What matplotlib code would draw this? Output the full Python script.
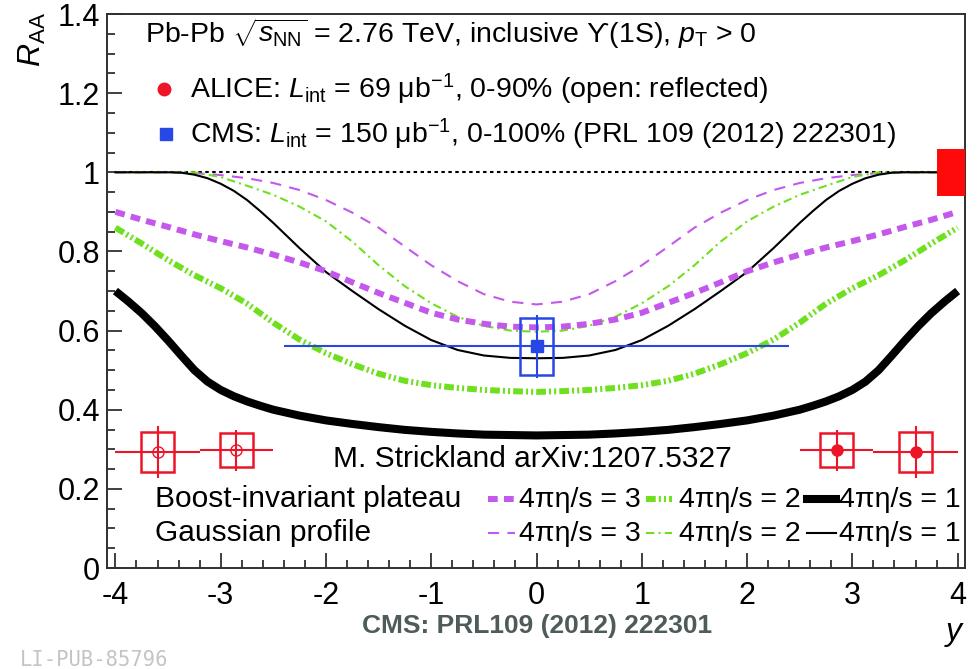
import matplotlib
matplotlib.use("Agg")
import matplotlib.pyplot as plt
from matplotlib.patches import Rectangle
from matplotlib.lines import Line2D
from matplotlib.ticker import MultipleLocator

plt.rcParams['font.family'] = ['Liberation Sans', 'DejaVu Sans']
plt.rcParams['mathtext.fontset'] = 'custom'
plt.rcParams['mathtext.rm'] = 'Liberation Sans'
plt.rcParams['mathtext.it'] = 'Liberation Sans:italic'
plt.rcParams['mathtext.bf'] = 'Liberation Sans:bold'
plt.rcParams['lines.scale_dashes'] = False

# ---------------- data ----------------
y_grid = [-4.0, -3.75, -3.5, -3.25, -3.0, -2.75, -2.5, -2.25, -2.0, -1.75, -1.5, -1.25, -1.0,
          -0.75, -0.5, -0.25, 0.0, 0.25, 0.5, 0.75, 1.0, 1.25, 1.5, 1.75, 2.0, 2.25, 2.5,
          2.75, 3.0, 3.25, 3.5, 3.75, 4.0]
y_fine = [-4.0, -3.875, -3.75, -3.625, -3.5, -3.375, -3.25, -3.125, -3.0, -2.875, -2.75, -2.625,
          -2.5, -2.25, -2.0, -1.75, -1.5, -1.25, -1.0, -0.75, -0.5, -0.25, 0.0, 0.25, 0.5, 0.75,
          1.0, 1.25, 1.5, 1.75, 2.0, 2.25, 2.5, 2.625, 2.75, 2.875, 3.0, 3.125, 3.25, 3.375, 3.5,
          3.625, 3.75, 3.875, 4.0]

bi_eta3 = [0.900, 0.880, 0.862, 0.843, 0.826, 0.810, 0.792, 0.772, 0.750, 0.722, 0.695, 0.670, 0.645,
           0.628, 0.617, 0.610, 0.608, 0.610, 0.617, 0.628, 0.645, 0.670, 0.695, 0.722, 0.750, 0.772,
           0.792, 0.810, 0.826, 0.843, 0.862, 0.880, 0.900]
bi_eta2 = [0.860, 0.820, 0.778, 0.740, 0.707, 0.668, 0.620, 0.577, 0.543, 0.515, 0.491, 0.473, 0.462,
           0.455, 0.450, 0.447, 0.445, 0.447, 0.450, 0.455, 0.462, 0.473, 0.491, 0.515, 0.543, 0.577,
           0.620, 0.668, 0.707, 0.740, 0.778, 0.820, 0.860]
bi_eta1 = [0.700, 0.673, 0.644, 0.611, 0.575, 0.537, 0.500, 0.471, 0.450, 0.434, 0.421, 0.410,
           0.400, 0.385, 0.373, 0.364, 0.356, 0.349, 0.344, 0.340, 0.337, 0.336, 0.335, 0.336,
           0.337, 0.340, 0.344, 0.349, 0.356, 0.364, 0.373, 0.385, 0.400, 0.410, 0.421, 0.434,
           0.450, 0.471, 0.500, 0.537, 0.575, 0.611, 0.644, 0.673, 0.700]
ga_eta3 = [1.000, 1.000, 1.000, 0.998, 0.993, 0.985, 0.973, 0.955, 0.930, 0.898, 0.860, 0.812, 0.765,
           0.725, 0.692, 0.673, 0.666, 0.673, 0.692, 0.725, 0.765, 0.812, 0.860, 0.898, 0.930, 0.955,
           0.973, 0.985, 0.993, 0.998, 1.000, 1.000, 1.000]
ga_eta2 = [1.000, 1.000, 1.000, 1.000, 0.988, 0.966, 0.943, 0.913, 0.876, 0.825, 0.765, 0.712, 0.669,
           0.635, 0.612, 0.600, 0.597, 0.600, 0.612, 0.635, 0.669, 0.712, 0.765, 0.825, 0.876, 0.913,
           0.943, 0.966, 0.988, 1.000, 1.000, 1.000, 1.000]
ga_eta1 = [1.000, 1.000, 1.000, 1.000, 1.000, 0.999, 0.994, 0.985, 0.971, 0.953, 0.930, 0.902,
           0.872, 0.808, 0.748, 0.700, 0.654, 0.612, 0.576, 0.551, 0.537, 0.531, 0.530, 0.531,
           0.537, 0.551, 0.576, 0.612, 0.654, 0.700, 0.748, 0.808, 0.872, 0.902, 0.930, 0.953,
           0.971, 0.985, 0.994, 0.999, 1.000, 1.000, 1.000, 1.000, 1.000]

# ALICE measured (forward) points
alice_y = [2.85, 3.6]
alice_xlo = [2.5, 3.2]
alice_xhi = [3.2, 4.0]
alice_raa = [0.298, 0.293]
alice_stat = [0.052, 0.065]
alice_syst = [0.042, 0.050]
# reflected points (open markers)
alice_refl_y = [-2.85, -3.6]
alice_refl_xlo = [-3.2, -4.0]
alice_refl_xhi = [-2.5, -3.2]

# CMS point
cms_y = [0.0]
cms_xerr = [2.4]
cms_raa = [0.56]
cms_stat = [0.08]
cms_syst = [0.072]

# global normalisation uncertainty (ALICE)
glob_unc = 0.06

# --------------- styles -----------------
PURPLE = '#c458ec'
GREEN = '#6ee01e'
RED = '#ee1428'
BLUE = '#2848e6'

W, H = 978, 669
fig = plt.figure(figsize=(W / 100, H / 100), dpi=100)
ax = fig.add_axes([107 / W, 1 - 568 / H, (965 - 107) / W, (568 - 14) / H])
ax.set_xlim(-4.08, 4.07)
ax.set_ylim(0, 1.4)

styles = {
    'bi3': dict(color=PURPLE, lw=4.3, dashes=(7, 4.5)),
    'bi2': dict(color=GREEN, lw=4.3, dashes=(7, 2.2, 1.5, 2.2, 1.5, 2.2)),
    'bi1': dict(color='black', lw=5.8),
    'ga3': dict(color=PURPLE, lw=1.5, dashes=(8, 6)),
    'ga2': dict(color=GREEN, lw=1.5, dashes=(6, 3, 1.5, 3)),
    'ga1': dict(color='black', lw=1.5),
}

# reference line at 1
ax.plot([-4.0, 3.8], [1.0, 1.0], color='black', lw=1.5, dashes=(2.5, 2.5), zorder=2)

ax.plot(y_grid, ga_eta3, **styles['ga3'], zorder=3)
ax.plot(y_grid, ga_eta2, **styles['ga2'], zorder=3)
ax.plot(y_fine, ga_eta1, **styles['ga1'], zorder=3, solid_joinstyle='round')
ax.plot(y_grid, bi_eta3, **styles['bi3'], zorder=3)
ax.plot(y_grid, bi_eta2, **styles['bi2'], zorder=3)
ax.plot(y_fine, bi_eta1, **styles['bi1'], zorder=3, solid_capstyle='butt', solid_joinstyle='round')

# global uncertainty box
ax.add_patch(Rectangle((3.8, 1 - glob_unc), 0.4, 2 * glob_unc, facecolor='#ff0a0a',
                       edgecolor='none', zorder=4, clip_on=True))

bw = 0.16
# ALICE measured points
for yc, lo, hi, r, st, sy in zip(alice_y, alice_xlo, alice_xhi, alice_raa, alice_stat, alice_syst):
    ax.errorbar([yc], [r], xerr=[[yc - lo], [hi - yc]], yerr=[st], fmt='o', color=RED,
                ms=8, mec=RED, mfc=RED, lw=1.5, capsize=0, zorder=6)
    ax.add_patch(Rectangle((yc - bw, r - sy), 2 * bw, 2 * sy, fill=False, edgecolor=RED,
                           lw=1.8, zorder=6))
# ALICE reflected points
for yc, lo, hi, r, st, sy in zip(alice_refl_y, alice_refl_xlo, alice_refl_xhi, alice_raa,
                                 alice_stat, alice_syst):
    ax.errorbar([yc], [r], xerr=[[yc - lo], [hi - yc]], yerr=[st], fmt='o', color=RED,
                ms=8, mec=RED, mfc='none', mew=1.0, lw=1.5, capsize=0, zorder=6)
    ax.add_patch(Rectangle((yc - bw, r - sy), 2 * bw, 2 * sy, fill=False, edgecolor=RED,
                           lw=1.8, zorder=6))

# CMS point
for yc, xe, r, st, sy in zip(cms_y, cms_xerr, cms_raa, cms_stat, cms_syst):
    ax.errorbar([yc], [r], xerr=[xe], yerr=[st], fmt='s', color=BLUE, ms=9, mec=BLUE,
                mfc=BLUE, lw=1.5, capsize=0, zorder=6)
    ax.add_patch(Rectangle((yc - bw, r - sy), 2 * bw, 2 * sy, fill=False, edgecolor=BLUE,
                           lw=1.8, zorder=6))

# axes styling
for s in ax.spines.values():
    s.set_linewidth(1.4)
    s.set_color('#303030')
ax.xaxis.set_minor_locator(MultipleLocator(0.2))
ax.yaxis.set_minor_locator(MultipleLocator(0.05))
ax.tick_params(which='both', direction='in', top=False, right=False, width=1.3, color='#303030')
ax.tick_params(which='major', length=11, labelsize=22)
ax.tick_params(axis='x', which='major', pad=9)
ax.tick_params(axis='y', which='major', pad=5)
ax.tick_params(which='minor', length=6)
ax.set_xticks([-4, -3, -2, -1, 0, 1, 2, 3, 4])
ax.set_xticklabels(['-4', '-3', '-2', '-1', '0', '1', '2', '3', '4'])
ax.set_yticks([0, 0.2, 0.4, 0.6, 0.8, 1.0, 1.2, 1.4])
ax.set_yticklabels(['0', '0.2', '0.4', '0.6', '0.8', '1', '1.2', '1.4'])

def ftxt(x, y, s, **kw):
    return fig.text(x / W, 1 - y / H, s, **kw)

# axis titles
ftxt(32, 12, r'$R_{\mathrm{AA}}$', rotation=90, fontsize=23, ha='center', va='top')
ftxt(962, 632, 'y', fontsize=23, style='italic', ha='right', va='center')

# header texts
HF = 20.5
ftxt(145, 43, r'Pb-Pb $\sqrt{s_{\mathrm{NN}}}$ = 2.76 TeV, inclusive ϒ(1S), $p_{\mathrm{T}}$ > 0',
     fontsize=HF, ha='left', va='baseline')
ftxt(190, 98, r'ALICE: $L_{\mathrm{int}}$ = 69 μb$^{\mathrm{-1}}$, 0-90% (open: reflected)',
     fontsize=HF, ha='left', va='baseline')
ftxt(190, 143, r'CMS: $L_{\mathrm{int}}$ = 150 μb$^{\mathrm{-1}}$, 0-100% (PRL 109 (2012) 222301)',
     fontsize=HF, ha='left', va='baseline')
fig.add_artist(Line2D([164 / W], [1 - 89 / H], marker='o', ms=9, color=RED, lw=0))
fig.add_artist(Line2D([166 / W], [1 - 134 / H], marker='s', ms=8.5, color=BLUE, lw=0))

# theory legend
LF = 21.5
ftxt(333, 467, 'M. Strickland arXiv:1207.5327', fontsize=LF, ha='left', va='baseline')
ftxt(155, 507, 'Boost-invariant plateau', fontsize=LF, ha='left', va='baseline')
ftxt(155, 541, 'Gaussian profile', fontsize=LF, ha='left', va='baseline')
row_y = [499, 533]
row_keys = [['bi3', 'bi2', 'bi1'], ['ga3', 'ga2', 'ga1']]
samp_x = [(488, 515), (646, 672), (807, 836)]
lab_x = [519, 679, 839]
labels = ['4πη/s = 3', '4πη/s = 2', '4πη/s = 1']
for ry, keys in zip(row_y, row_keys):
    for (x0, x1), k, lx, lab in zip(samp_x, keys, lab_x, labels):
        fig.add_artist(Line2D([x0 / W, x1 / W], [1 - ry / H, 1 - ry / H], **styles[k]))
        ftxt(lx, ry + 8, lab, fontsize=LF - 1, ha='left', va='baseline')

# footers
ftxt(537, 626, 'CMS: PRL109 (2012) 222301', fontsize=19, fontweight='bold', color='#4f5a5a',
     ha='center', va='center')
ftxt(20, 660, 'LI-PUB-85796', fontsize=14.8, family='DejaVu Sans Mono', color='#c4c4c4',
     ha='left', va='center')

fig.savefig('out.png', dpi=100)
